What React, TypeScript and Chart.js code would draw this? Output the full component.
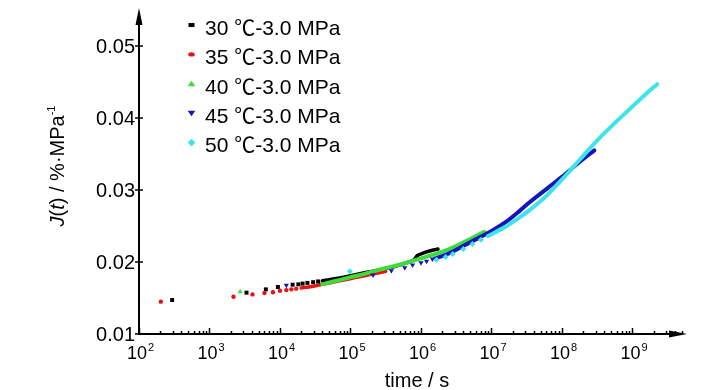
import React, { useEffect, useRef } from "react";
import { Chart, registerables } from "chart.js";
Chart.register(...registerables);

// ---------- data (time in s, J(t) in %·MPa^-1) ----------
const t30Sparse = [295, 3350, 6300, 9330, 15100, 18200, 20900, 24500, 29500, 34700];
const j30Sparse = [0.01472, 0.01574, 0.0162, 0.01653, 0.01685, 0.0169, 0.017, 0.0171, 0.0172, 0.0173];
const t30Curve = [3.98e4, 5.01e4, 6.31e4, 7.94e4, 1.0e5, 1.26e5, 1.58e5, 2.0e5, 2.51e5, 3.16e5, 3.98e5, 5.01e5, 6.31e5, 7.94e5, 8.9e5, 1.12e6, 1.41e6, 1.74e6];
const j30Curve = [0.0174, 0.01755, 0.0177, 0.0179, 0.0181, 0.0183, 0.0185, 0.0187, 0.0189, 0.0191, 0.0193, 0.0196, 0.0199, 0.0203, 0.0209, 0.0213, 0.0216, 0.0218];

const t35Sparse = [204, 2190, 4070, 6030, 7940, 1.0e4, 1.23e4, 1.45e4, 1.7e4];
const j35Sparse = [0.01449, 0.01518, 0.0155, 0.0157, 0.0158, 0.016, 0.0161, 0.0162, 0.0163];
const t35Curve = [2.0e4, 2.82e4, 3.98e4, 5.62e4, 7.94e4, 1.12e5, 1.58e5, 2.24e5, 3.16e5];
const j35Curve = [0.0164, 0.0166, 0.0169, 0.0172, 0.0175, 0.0178, 0.0181, 0.0184, 0.0187];

const t40Sparse = [2720];
const j40Sparse = [0.01588];
const t40Curve = [3.98e4, 6.31e4, 1.0e5, 1.58e5, 2.51e5, 3.98e5, 6.31e5, 1.0e6, 1.58e6, 2.51e6, 3.98e6, 6.31e6, 7.94e6];
const j40Curve = [0.0169, 0.0174, 0.0179, 0.01835, 0.0189, 0.0194, 0.0199, 0.0205, 0.0211, 0.0218, 0.0227, 0.0237, 0.0242];

const t45Sparse = [1.23e4, 2.09e5, 3.8e5, 5.89e5, 7.59e5, 1.0e6, 1.2e6, 1.45e6];
const j45Sparse = [0.01676, 0.0182, 0.0188, 0.0192, 0.0196, 0.0199, 0.0201, 0.0204];
const t45Curve = [1.58e6, 2.24e6, 3.16e6, 5.37e6, 1.0e7, 1.62e7, 2.51e7, 3.47e7, 6.31e7, 1.02e8, 1.78e8, 2.88e8];
const j45Curve = [0.0205, 0.021, 0.0217, 0.0229, 0.0243, 0.0256, 0.0271, 0.0283, 0.0303, 0.0319, 0.0339, 0.0355];

const t50Sparse = [9.8e4, 1.66e6, 2.24e6, 2.82e6, 3.98e6, 5.37e6, 7.08e6];
const j50Sparse = [0.0187, 0.0203, 0.0207, 0.0211, 0.0218, 0.0225, 0.0231];
const t50Curve = [8.91e6, 1.58e7, 2.51e7, 3.47e7, 6.03e7, 1.15e8, 1.78e8, 3.39e8, 5.62e8, 1.0e9, 1.58e9, 2.24e9];
const j50Curve = [0.0236, 0.0249, 0.0262, 0.0272, 0.0292, 0.0321, 0.0342, 0.0372, 0.0393, 0.0416, 0.0434, 0.0447];

const seriesNames = ["30 ℃-3.0 MPa", "35 ℃-3.0 MPa", "40 ℃-3.0 MPa", "45 ℃-3.0 MPa", "50 ℃-3.0 MPa"];
const yTickValues = [0.01, 0.02, 0.03, 0.04, 0.05];
const xDecadeExponents = [2, 3, 4, 5, 6, 7, 8, 9];
const X_MIN = 100;
const X_MAX = 5.93e9;
const Y_MIN = 0.01;
const Y_MAX = 0.05528;

// ---------- styles ----------
const COLORS = ["#000000", "#e31414", "#3bdc3b", "#1616b8", "#3fe4ea"];
const POINT_STYLES: any[] = ["rect", "circle", "triangle", "triangle", "rectRot"];
const POINT_ROT = [0, 0, 0, 180, 0];
const POINT_RADIUS = [2.8, 2.2, 3, 3, 3];
const LINE_WIDTH = [3.5, 3.5, 4, 4, 4];
const FONT = "'Liberation Sans', Arial, 'Noto Sans CJK SC', sans-serif";

const sparseT = [t30Sparse, t35Sparse, t40Sparse, t45Sparse, t50Sparse];
const sparseJ = [j30Sparse, j35Sparse, j40Sparse, j45Sparse, j50Sparse];
const curveT = [t30Curve, t35Curve, t40Curve, t45Curve, t50Curve];
const curveJ = [j30Curve, j35Curve, j40Curve, j45Curve, j50Curve];

function pts(ts: number[], js: number[]) {
  return ts.map((x, i) => ({ x, y: js[i] }));
}

function buildDatasets() {
  const ds: any[] = [];
  for (let i = 0; i < 5; i++) {
    ds.push({
      label: seriesNames[i] + " curve",
      data: pts(curveT[i], curveJ[i]),
      showLine: true,
      borderColor: COLORS[i],
      backgroundColor: COLORS[i],
      borderWidth: LINE_WIDTH[i],
      borderCapStyle: "round",
      borderJoinStyle: "round",
      pointRadius: 0,
      tension: 0.3,
      order: 10 - i,
    });
    ds.push({
      label: seriesNames[i],
      data: pts(sparseT[i], sparseJ[i]),
      showLine: false,
      borderColor: COLORS[i],
      backgroundColor: COLORS[i],
      borderWidth: 0,
      pointStyle: POINT_STYLES[i],
      rotation: POINT_ROT[i],
      pointRadius: POINT_RADIUS[i],
      order: 5 - i,
    });
  }
  return ds;
}

function drawMarker(ctx: CanvasRenderingContext2D, i: number, x: number, y: number) {
  ctx.fillStyle = COLORS[i];
  ctx.beginPath();
  if (i === 0) {
    ctx.rect(x - 3, y - 2, 6, 4);
  } else if (i === 1) {
    ctx.ellipse(x, y, 3.2, 2.2, 0, 0, Math.PI * 2);
  } else if (i === 2) {
    ctx.moveTo(x, y - 3);
    ctx.lineTo(x + 3.8, y + 2.5);
    ctx.lineTo(x - 3.8, y + 2.5);
  } else if (i === 3) {
    ctx.moveTo(x, y + 3);
    ctx.lineTo(x + 3.8, y - 2.5);
    ctx.lineTo(x - 3.8, y - 2.5);
  } else {
    ctx.moveTo(x, y - 3.8);
    ctx.lineTo(x + 3.8, y);
    ctx.lineTo(x, y + 3.8);
    ctx.lineTo(x - 3.8, y);
  }
  ctx.closePath();
  ctx.fill();
}

const decoPlugin = {
  id: "deco",
  afterDraw(chart: any) {
    const { ctx, chartArea: a, scales } = chart;
    const xs = scales.x;
    const ys = scales.y;
    ctx.save();
    ctx.strokeStyle = "#000";
    ctx.fillStyle = "#000";
    ctx.lineWidth = 2;
    ctx.lineCap = "butt";

    // y axis + arrow
    ctx.beginPath();
    ctx.moveTo(a.left, a.bottom + 1);
    ctx.lineTo(a.left, a.top + 10);
    ctx.stroke();
    ctx.beginPath();
    ctx.moveTo(a.left, a.top);
    ctx.lineTo(a.left - 3.5, a.top + 17);
    ctx.lineTo(a.left + 3.5, a.top + 17);
    ctx.closePath();
    ctx.fill();

    // x axis + arrow
    ctx.beginPath();
    ctx.moveTo(a.left - 1, a.bottom);
    ctx.lineTo(a.right - 10, a.bottom);
    ctx.stroke();
    ctx.beginPath();
    ctx.moveTo(a.right, a.bottom);
    ctx.lineTo(a.right - 18, a.bottom - 3.5);
    ctx.lineTo(a.right - 18, a.bottom + 3.5);
    ctx.closePath();
    ctx.fill();

    // y ticks + labels
    ctx.lineWidth = 1.5;
    ctx.font = "20px " + FONT;
    ctx.textAlign = "right";
    ctx.textBaseline = "middle";
    for (const v of yTickValues) {
      const y = Math.round(ys.getPixelForValue(v));
      ctx.beginPath();
      ctx.moveTo(a.left - 4, y);
      ctx.lineTo(a.left + 4, y);
      ctx.stroke();
      ctx.fillText(v.toFixed(2), a.left - 4, y + 1);
    }

    // x ticks (major + minor)
    for (const e of xDecadeExponents) {
      for (let m = 1; m <= 9; m++) {
        const v = m * Math.pow(10, e);
        if (v > X_MAX * 0.97) continue;
        const x = Math.round(xs.getPixelForValue(v)) + 0.5;
        const len = m === 1 ? 6 : 3;
        ctx.beginPath();
        ctx.moveTo(x, a.bottom);
        ctx.lineTo(x, a.bottom - len);
        ctx.stroke();
      }
    }
    // x labels: 10^n
    ctx.textBaseline = "alphabetic";
    for (const e of xDecadeExponents) {
      const x = xs.getPixelForValue(Math.pow(10, e));
      ctx.font = "18px " + FONT;
      ctx.textAlign = "center";
      const w = ctx.measureText("10").width;
      ctx.fillText("10", x - 2, 359);
      ctx.font = "11px " + FONT;
      ctx.textAlign = "left";
      ctx.fillText(String(e), x - 2 + w / 2 + 1, 351);
    }

    // x title
    ctx.font = "20px " + FONT;
    ctx.textAlign = "center";
    ctx.fillText("time / s", 417, 387);

    // y title (rotated, rich text)
    const parts = [
      { t: "J", f: "italic 20px " + FONT, dy: 0 },
      { t: "(", f: "20px " + FONT, dy: 0 },
      { t: "t", f: "italic 20px " + FONT, dy: 0 },
      { t: ") / %·MPa", f: "20px " + FONT, dy: 0 },
      { t: "-1", f: "11px " + FONT, dy: -9 },
    ];
    let total = 0;
    const widths = parts.map((p) => {
      ctx.font = p.f;
      const w = ctx.measureText(p.t).width;
      total += w;
      return w;
    });
    ctx.save();
    ctx.translate(64, 166);
    ctx.rotate(-Math.PI / 2);
    ctx.textAlign = "left";
    ctx.textBaseline = "alphabetic";
    let cx = -total / 2;
    parts.forEach((p, i) => {
      ctx.font = p.f;
      ctx.fillText(p.t, cx, p.dy);
      cx += widths[i];
    });
    ctx.restore();

    // legend
    ctx.font = "21px " + FONT;
    ctx.textAlign = "left";
    ctx.textBaseline = "middle";
    for (let i = 0; i < 5; i++) {
      const my = 25 + i * 29.4;
      drawMarker(ctx, i, 191.5, my);
      ctx.fillStyle = "#000";
      ctx.fillText(seriesNames[i], 205, my + 4);
    }
    ctx.restore();
  },
};

export default function App() {
  const ref = useRef<HTMLCanvasElement>(null);
  useEffect(() => {
    const chart = new Chart(ref.current as HTMLCanvasElement, {
      type: "scatter",
      data: { datasets: buildDatasets() },
      options: {
        responsive: false,
        animation: false,
        layout: { padding: { left: 139, top: 8, right: 41, bottom: 56 } },
        plugins: { legend: { display: false }, tooltip: { enabled: false } },
        scales: {
          x: { type: "logarithmic", min: X_MIN, max: X_MAX, display: false },
          y: { type: "linear", min: Y_MIN, max: Y_MAX, display: false },
        },
      } as any,
      plugins: [decoPlugin],
    });
    return () => chart.destroy();
  }, []);
  return (
    <div style={{ position: "absolute", left: 0, top: 0, width: 728, height: 390, background: "#fff" }}>
      <canvas ref={ref} width={728} height={390} style={{ display: "block" }} />
    </div>
  );
}
